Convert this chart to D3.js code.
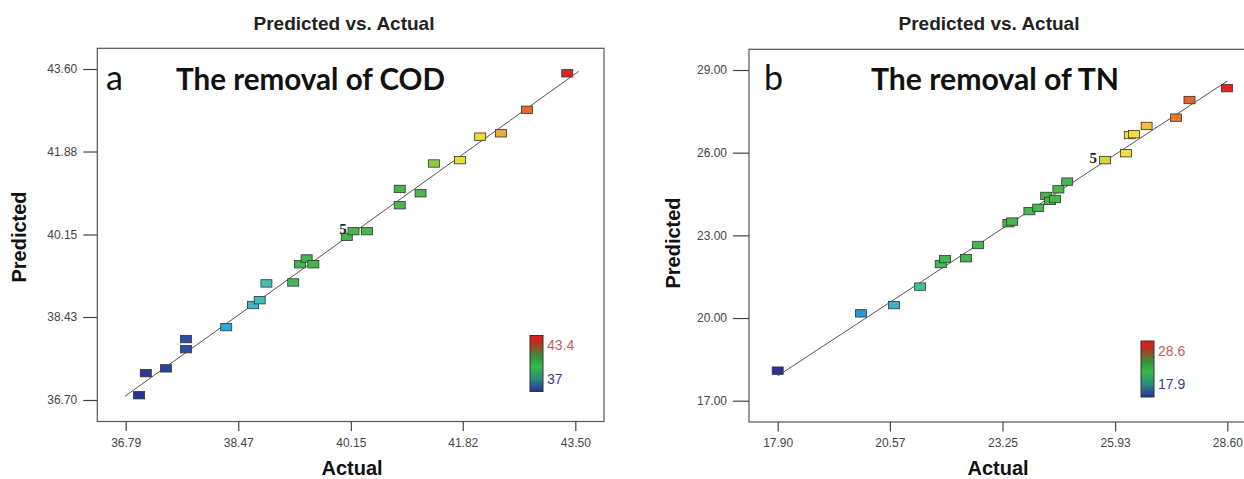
<!DOCTYPE html>
<html><head><meta charset="utf-8">
<script src="https://cdn.jsdelivr.net/npm/d3@7"></script>
<style>body{margin:0;background:#fff} svg{display:block}</style>
</head><body>
<svg id="c" width="1244" height="479"></svg>
<script>
// ---------- data ----------
const codActual    = [36.99,37.09,37.39,37.69,37.69,38.29,38.69,38.79,38.89,39.29,39.39,39.49,39.59,40.09,40.19,40.39,40.88,40.88,41.19,41.39,41.78,42.08,42.39,42.78,43.38];
const codPredicted = [36.80,37.26,37.36,37.97,37.76,38.22,38.68,38.78,39.13,39.15,39.53,39.65,39.53,40.10,40.22,40.22,40.76,41.10,41.01,41.63,41.70,42.19,42.26,42.75,43.51];
const tnActual     = [17.90,19.88,20.67,21.29,21.78,21.88,22.38,22.67,23.39,23.48,23.89,24.10,24.29,24.38,24.50,24.58,24.79,25.69,26.19,26.28,26.38,26.68,27.38,27.70,28.59];
const tnPredicted  = [18.09,20.17,20.47,21.14,21.96,22.14,22.17,22.65,23.44,23.50,23.88,24.00,24.43,24.25,24.32,24.67,24.95,25.73,25.98,26.64,26.67,26.97,27.27,27.91,28.34];
const codXTicks = ["36.79","38.47","40.15","41.82","43.50"];
const codYTicks = ["36.70","38.43","40.15","41.88","43.60"];
const tnXTicks  = ["17.90","20.57","23.25","25.93","28.60"];
const tnYTicks  = ["17.00","20.00","23.00","26.00","29.00"];
const codLegend = ["37","43.4"];
const tnLegend  = ["17.9","28.6"];
const codLine = [36.78, 43.55];
const tnLine  = [17.90, 28.60];
const codReplicate = {index: 13, label: "5"};
const tnReplicate  = {index: 17, label: "5"};
const panelLetters = ["a","b"];
const panelTitles = ["The removal of COD","The removal of TN"];
const chartTitle = "Predicted vs. Actual";
const xLabel = "Actual", yLabel = "Predicted";

// ---------- drawing ----------
const svg = d3.select("#c");
const FONT = "'Liberation Sans', Arial, sans-serif";
const palette = d3.scaleLinear()
  .domain([0, 0.12, 0.2, 0.3, 0.37, 0.66, 0.7, 0.76, 0.8, 0.84, 0.9, 1])
  .range(["#27358f","#2f4fae","#2aa8de","#46c0b0","#3fb650","#4ab84a","#b0d040","#f4e23a","#f2d838","#f0a838","#eb6a2c","#e32222"])
  .clamp(true);

const defs = svg.append("defs");
const grad = defs.append("linearGradient").attr("id","cbar").attr("x1",0).attr("y1",0).attr("x2",0).attr("y2",1);
[["0%","#e41e1e"],["12%","#c02a1e"],["40%","#2f9a3a"],["55%","#35b845"],["78%","#2a8a80"],["100%","#2a2f9a"]]
  .forEach(([o,c])=>grad.append("stop").attr("offset",o).attr("stop-color",c));

function panel(cfg){
  const g = svg.append("g");
  const x = d3.scaleLinear().domain([+cfg.xTicks[0], +cfg.xTicks[cfg.xTicks.length-1]]).range(cfg.xRange);
  const y = d3.scaleLinear().domain([+cfg.yTicks[0], +cfg.yTicks[cfg.yTicks.length-1]]).range(cfg.yRange);
  const f = cfg.frame;

  // chart title
  g.append("text").attr("x", cfg.titleX).attr("y", 30).attr("text-anchor","middle")
    .attr("font-family",FONT).attr("font-size",19).attr("font-weight","bold").attr("fill","#222")
    .text(chartTitle);

  // frame
  g.append("rect").attr("x",f[0]).attr("y",f[1]).attr("width",f[2]-f[0]).attr("height",f[3]-f[1])
    .attr("fill","none").attr("stroke","#555").attr("stroke-width",1.2);

  // axes
  const xa = g.append("g").attr("transform",`translate(0,${f[3]})`)
    .call(d3.axisBottom(x).tickValues(cfg.xTicks.map(Number)).tickFormat((d,i)=>cfg.xTicks[i]).tickSize(9.5).tickPadding(7));
  const ya = g.append("g").attr("transform",`translate(${f[0]},0)`)
    .call(d3.axisLeft(y).tickValues(cfg.yTicks.map(Number)).tickFormat((d,i)=>cfg.yTicks[i]).tickSize(cfg.yTickSize).tickPadding(6));
  [xa,ya].forEach(a=>{
    a.select(".domain").remove();
    a.selectAll(".tick line").attr("stroke","#444").attr("stroke-width",1.2);
    a.selectAll(".tick text").attr("font-family",FONT).attr("font-size",12).attr("fill","#444");
  });

  // axis labels
  g.append("text").attr("x", cfg.xLabelX).attr("y", 475).attr("text-anchor","middle")
    .attr("font-family",FONT).attr("font-size",20).attr("font-weight","bold").attr("fill","#111").text(xLabel);
  g.append("text").attr("transform",`translate(${cfg.yLabelX},${cfg.yLabelY}) rotate(-90)`).attr("text-anchor","middle")
    .attr("font-family",FONT).attr("font-size",20).attr("font-weight","bold").attr("fill","#111").text(yLabel);

  // panel letter & title
  g.append("text").attr("x", cfg.letterX).attr("y", 90).attr("font-family","Lato, sans-serif")
    .attr("font-size",34).attr("fill","#111").text(cfg.letter);
  g.append("text").attr("x", cfg.ptitleX).attr("y", 90).attr("font-family","Lato, sans-serif")
    .attr("font-size",31).attr("font-weight","bold").attr("fill","#111")
    .attr("textLength", cfg.ptitleW).attr("lengthAdjust","spacingAndGlyphs").text(cfg.ptitle);

  // fit line
  g.append("line").attr("x1",x(cfg.line[0])).attr("y1",y(cfg.line[0])).attr("x2",x(cfg.line[1])).attr("y2",y(cfg.line[1]))
    .attr("stroke","#555").attr("stroke-width",1);

  // points
  const lo = +cfg.legend[0], hi = +cfg.legend[1];
  const pts = cfg.actual.map((a,i)=>({a, p: cfg.predicted[i]}));
  g.selectAll("rect.pt").data(pts).join("rect").attr("class","pt")
    .attr("x",d=>x(d.a)-5.5).attr("y",d=>y(d.p)-3.7).attr("width",11).attr("height",7.4)
    .attr("fill",d=>palette((d.a-lo)/(hi-lo))).attr("stroke","#333").attr("stroke-width",0.8);

  // replicate label
  const r = pts[cfg.rep.index];
  g.append("text").attr("x", x(r.a)+cfg.repDx).attr("y", y(r.p)+cfg.repDy).attr("text-anchor","end")
    .attr("font-family","'Liberation Serif', serif").attr("font-size",15).attr("font-weight","bold").attr("fill","#222")
    .text(cfg.rep.label);

  // color legend
  const c = cfg.cbar;
  g.append("rect").attr("x",c[0]).attr("y",c[1]).attr("width",c[2]).attr("height",c[3])
    .attr("fill","url(#cbar)").attr("stroke","#333").attr("stroke-width",1);
  g.append("text").attr("x",c[0]+c[2]+4).attr("y",c[1]+cfg.hiLabY).attr("font-family",FONT).attr("font-size",14)
    .attr("fill","#c85a60").text(cfg.legend[1]);
  g.append("text").attr("x",c[0]+c[2]+4).attr("y",c[1]+cfg.loLabY).attr("font-family",FONT).attr("font-size",14)
    .attr("fill","#3a3f88").text(cfg.legend[0]);
}

panel({
  actual: codActual, predicted: codPredicted, xTicks: codXTicks, yTicks: codYTicks,
  xRange:[125.7,575.3], yRange:[400,69], frame:[97.3,48.3,604,421.5], yTickSize:14,
  titleX:344, xLabelX:352, yLabelX:26, yLabelY:237,
  letter: panelLetters[0], letterX:106, ptitle: panelTitles[0], ptitleX:176, ptitleW:269,
  line: codLine, legend: codLegend, rep: codReplicate, repDx:0, repDy:-3,
  cbar:[530,335.5,13,56], hiLabY:14, loLabY:48
});
panel({
  actual: tnActual, predicted: tnPredicted, xTicks: tnXTicks, yTicks: tnYTicks,
  xRange:[777.7,1227.3], yRange:[400.7,70], frame:[749,49.3,1256,422], yTickSize:16,
  titleX:989, xLabelX:998, yLabelX:680, yLabelY:243,
  letter: panelLetters[1], letterX:764, ptitle: panelTitles[1], ptitleX:871, ptitleW:248,
  line: tnLine, legend: tnLegend, rep: tnReplicate, repDx:-8, repDy:3,
  cbar:[1141,341,13,56], hiLabY:15, loLabY:48
});
</script>
</body></html>
